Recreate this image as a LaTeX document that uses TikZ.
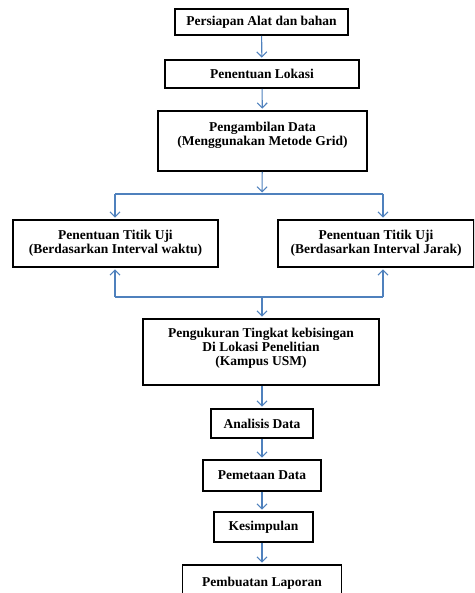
\documentclass[tikz,border=0pt]{standalone}
\usepackage{fontspec}
\setmainfont{Liberation Serif}
\usepackage{tikz}
\usetikzlibrary{arrows.meta,calc}
\definecolor{flowblue}{RGB}{79,129,189}

\begin{document}
\begin{tikzpicture}[x=1pt, y=-1pt,
    font=\fontsize{13.5}{14}\selectfont\bfseries,
    stepbox/.style={draw=black, line width=1.8pt, fill=white, align=center, inner sep=0pt},
    flow/.style={flowblue, line width=1.1pt, -{Straight Barb[length=5pt,width=10pt]}, shorten >=1.5pt},
    link/.style={flowblue, line width=1.1pt}]
        % Frame of the page
        \useasboundingbox (0,0) rectangle (474,593);
        \clip (0,0) rectangle (474,593);
        % Main column
        \node[stepbox, minimum width=173, minimum height=26] (alat) at (261.5,22) {Persiapan Alat dan bahan};
        \node[stepbox, minimum width=194, minimum height=28] (lokasi) at (262,74) {Penentuan Lokasi};
        \node[stepbox, minimum width=209, minimum height=60] (ambil) at (262.5,141)
          {Pengambilan Data\\(Menggunakan Metode Grid)\\\mbox{}};
        % Two test point branches
        \node[stepbox, minimum width=205, minimum height=47] (waktu) at (115.5,243.5)
          {Penentuan Titik Uji\\(Berdasarkan Interval waktu)};
        \node[stepbox, minimum width=196, minimum height=47] (jarak) at (376,243.5)
          {Penentuan Titik Uji\\(Berdasarkan Interval Jarak)};
        \node[stepbox, minimum width=236, minimum height=66] (ukur) at (261,352)
          {Pengukuran Tingkat kebisingan\\Di Lokasi Penelitian\\(Kampus USM)\\[-4pt]\mbox{}};
        \node[stepbox, minimum width=102, minimum height=29] (analisis) at (262,423.5) {Analisis Data};
        \node[stepbox, minimum width=118, minimum height=31] (peta) at (262,475.5) {Pemetaan Data};
        \node[stepbox, minimum width=99, minimum height=30] (simpul) at (263.5,527) {Kesimpulan};
        \node[stepbox, minimum width=159, minimum height=34, text depth=0pt] (laporan) at (262,582) {Pembuatan Laporan};
        % Split and merge points
        \coordinate (split) at (262,194);
        \coordinate (splitL) at (115,194);
        \coordinate (splitR) at (383,194);
        \coordinate (merge) at (262,297);
        \coordinate (mergeL) at (115,297);
        \coordinate (mergeR) at (383,297);
        % Connectors
        \draw[flow] (alat) -- (lokasi);
        \draw[flow] (lokasi) -- (ambil);
        \draw[flow] (ambil) -- (split);
        \draw[link] (splitL) -- (splitR);
        \draw[flow] (splitL) -- (waktu.north -| splitL);
        \draw[flow] (splitR) -- (jarak.north -| splitR);
        \draw[link] (mergeL) -- (mergeR);
        \draw[flow] (mergeL) -- (waktu.south -| mergeL);
        \draw[flow] (mergeR) -- (jarak.south -| mergeR);
        \draw[flow] (merge) -- (ukur.north -| merge);
        \draw[flow] (ukur.south -| analisis) -- (analisis);
        \draw[flow] (analisis) -- (peta);
        \draw[flow] (peta) -- (simpul.north -| peta);
        \draw[flow] (simpul.south -| laporan) -- (laporan);
      \end{tikzpicture}
\end{document}
